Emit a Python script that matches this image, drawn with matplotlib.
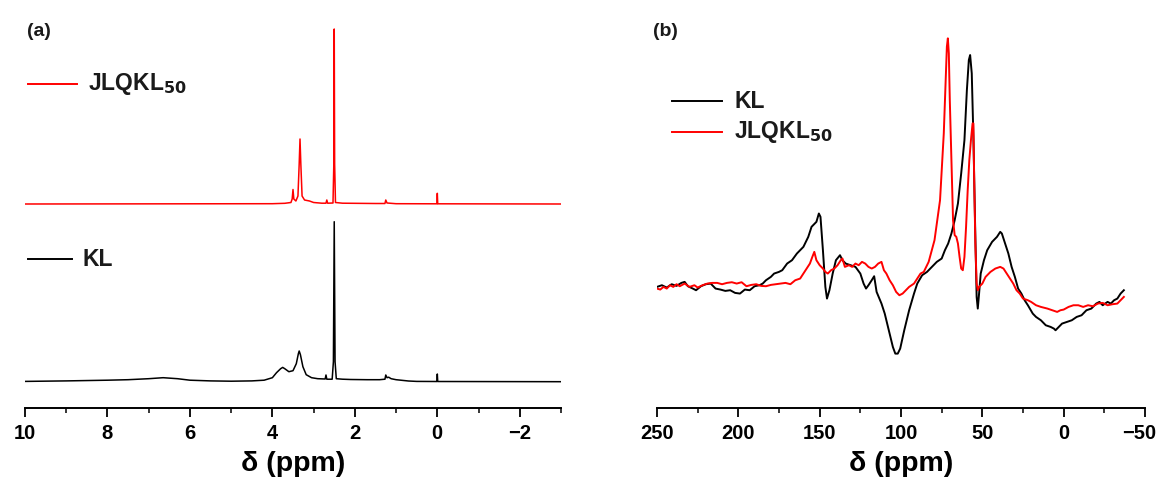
import matplotlib
matplotlib.use("Agg")
import matplotlib.pyplot as plt
import matplotlib.transforms as mtransforms
from matplotlib.ticker import MultipleLocator

plt.rcParams['font.family'] = ['Liberation Sans', 'DejaVu Sans']
plt.rcParams['font.weight'] = 'bold'

# ---------------- Panel (a): 1H NMR ----------------
a_kl_ppm = [10, 9, 8, 7.5, 7, 6.65, 6.3, 6, 5.5, 5, 4.5, 4.2, 4.0, 3.9, 3.8, 3.75, 3.7, 3.6,
            3.5, 3.42, 3.37, 3.35, 3.32, 3.26, 3.18, 3.05, 2.9, 2.72, 2.70, 2.68, 2.55, 2.52,
            2.50, 2.48, 2.45, 2.3, 2.1, 1.7, 1.4, 1.27, 1.25, 1.22, 1.18, 1.12, 1.0, 0.7, 0.5,
            0.01, 0.0, -0.01, -3]
a_kl_int = [0.3, 0.8, 1.5, 2, 3, 4, 3, 1.5, 0.8, 0.5, 0.8, 1.5, 4, 9, 13, 14.3, 13, 10,
            11, 18, 28, 30.7, 27, 15, 7, 4, 3, 2.7, 6.7, 2.5, 2.5, 20,
            160, 20, 3, 2.5, 2.2, 2, 2, 2.5, 6.7, 4, 4.5, 3, 2, 0.7, 0.3,
            0.2, 7.7, 0.2, 0]

a_jl_ppm = [10, 4.0, 3.7, 3.55, 3.52, 3.50, 3.48, 3.43, 3.38, 3.35, 3.33, 3.31, 3.28, 3.22,
            3.1, 3.0, 2.8, 2.70, 2.68, 2.66, 2.53, 2.51, 2.50, 2.49, 2.47, 2.3, 1.5, 1.27,
            1.25, 1.22, 1.0, 0.01, 0.0, -0.01, -3]
a_jl_int = [0, 0.3, 0.7, 1.5, 5, 14.5, 5, 3, 8, 40, 65, 40, 8, 4,
            3, 1.5, 0.8, 0.8, 4, 0.8, 1, 40, 175, 40, 1.5, 0.8, 0.5, 0.5,
            4, 1, 0.3, 0.2, 10.7, 0.2, 0]

a_xticks = [10, 8, 6, 4, 2, 0, -2]

# ---------------- Panel (b): 13C NMR ----------------
b_kl_ppm = [250, 247, 244, 241, 238, 235, 233, 231, 228, 226, 223, 220, 217, 214, 211, 208, 205,
            202, 199, 196, 193, 190, 187, 185, 183, 180, 178, 175, 173, 170, 167, 164, 160, 157,
            155, 152, 150.5, 149.5, 148, 146.5, 145.5, 144, 142, 140, 137.5, 136, 134, 131, 128,
            125, 123, 121.5, 120, 118, 116.5, 115, 112, 110, 107, 105, 103.5, 102, 100.5, 98, 95,
            92, 90, 87, 84, 81, 78, 75, 73, 71, 69, 67, 65, 63, 61, 59.5, 58.3, 57.5, 56.5, 55.5,
            54.5, 53.5, 52.8, 52, 51, 49, 47, 44, 41, 39, 38, 36, 34, 32, 30, 28, 26, 24, 22, 19,
            17, 14, 11, 8, 6, 5, 3, 1, -2, -5, -8, -11, -14, -17, -20, -22, -24, -27, -29, -31,
            -33, -35, -37]
b_kl_int = [0, 5, -2, 8, 3, 12, 15, 2, -5, -10, 2, 8, 10, -5, -8, -12, -10,
            -18, -20, -8, -10, 2, 5, 10, 20, 30, 40, 45, 50, 70, 80, 100, 120, 150,
            180, 195, 220, 210, 110, 0, -35, -10, 40, 80, 95, 80, 70, 65, 60,
            40, 10, -5, 5, 20, 32, -15, -50, -80, -140, -180, -200, -200, -185, -130, -70,
            -20, 10, 35, 45, 60, 75, 85, 110, 130, 160, 200, 250, 340, 440, 590, 680, 695, 640, 450,
            200, -30, -65, -20, 40, 80, 110, 135, 150, 165, 160, 130, 100, 60, 30, -5, -20, -40, -55, -80,
            -90, -100, -115, -120, -125, -130, -120, -110, -105, -100, -90, -85, -70, -65, -50, -45, -55, -45, -50, -40,
            -35, -20, -10]

b_jl_ppm = [250, 248, 246, 244, 242, 240, 238, 236, 233, 230, 227, 225, 222, 219, 216, 213, 210,
            207, 204, 201, 198, 195, 192, 189, 186, 183, 180, 177, 174, 171, 168, 165, 162, 160,
            158, 156, 154.5, 153.3, 152, 150, 148, 146.5, 145, 143, 141, 139, 137, 136, 134.5, 132,
            130, 128, 126, 124, 122, 120, 118, 116, 114, 112, 110.5, 109, 107, 105, 103, 101, 99,
            97, 95, 92, 90, 88, 86, 83, 79.4, 76, 73.7, 72.5, 71.8, 71.2, 70.6, 70, 69, 68, 67, 66,
            65, 64, 63, 62, 61, 60, 59, 58, 57, 56, 55.5, 55, 54.3, 53.5, 52.8, 52, 50, 48, 45, 42,
            39, 37, 35, 33, 31, 29, 27, 25, 22, 20, 17, 14, 10, 7, 4, 2, 0, -3, -6, -9, -12, -15,
            -18, -21, -24, -27, -30, -33, -35, -37]
b_jl_int = [-5, -8, 0, -5, 5, 0, 8, 2, 10, 0, 5, -2, 5, 10, 12, 12, 8,
            12, 14, 10, 14, 2, 6, 8, 3, 2, 6, 8, 10, 12, 8, 20, 25, 40,
            55, 70, 90, 105, 80, 65, 55, 45, 40, 50, 55, 65, 80, 85, 60, 65,
            60, 70, 65, 75, 70, 60, 55, 60, 70, 75, 50, 40, 20, 5, -15, -25, -20,
            -10, 0, 10, 25, 40, 45, 75, 140, 260, 460, 620, 720, 745, 700, 560, 380, 200, 155, 150,
            130, 90, 55, 50, 90, 180, 290, 380, 440, 490, 490, 320, 130, 10, -10, 0, 10, 30, 45, 55,
            60, 55, 40, 25, 10, -10, -20, -35, -40, -45, -55, -60, -65, -70, -75, -70, -68, -60, -55, -55, -60, -55,
            -58, -50, -48, -55, -52, -50, -40, -30]

b_xticks = [250, 200, 150, 100, 50, 0, -50]

# offsets (in axis pixel units) for stacked spectra in panel (a)
KL_OFFSET = 25.3
JL_OFFSET = 203.0

W, H = 1164, 482
fig = plt.figure(figsize=(W / 100, H / 100), dpi=100)
fig.patch.set_facecolor('white')

def style_axis(ax):
    for s in ['left', 'right', 'top']:
        ax.spines[s].set_visible(False)
    ax.spines['bottom'].set_linewidth(1.4)
    ax.set_yticks([])
    ax.tick_params(axis='x', which='major', direction='out', length=6.5, width=1.3,
                   labelsize=14.5, pad=5)
    ax.tick_params(axis='x', which='minor', direction='out', length=3.5, width=1.1)
    for lab in ax.get_xticklabels():
        lab.set_fontweight('bold')
    ax.set_xlabel('δ (ppm)', fontsize=20.5, fontweight='bold', labelpad=6)
    ax.patch.set_alpha(0)

# Panel (a)
ax1 = fig.add_axes([25 / W, 74 / H, 536 / W, 388 / H])
ax1.plot(a_kl_ppm, [v + KL_OFFSET for v in a_kl_int], color='black', lw=1.1)
ax1.plot(a_jl_ppm, [v + JL_OFFSET for v in a_jl_int], color='#ff0000', lw=1.1)
ax1.set_xlim(10, -3)
ax1.set_ylim(-1, 387)
ax1.set_xticks(a_xticks)
ax1.xaxis.set_minor_locator(MultipleLocator(1))
style_axis(ax1)

# Panel (b)
ax2 = fig.add_axes([657 / W, 74 / H, 488 / W, 388 / H])
ax2.plot(b_kl_ppm, b_kl_int, color='black', lw=1.4)
ax2.plot(b_jl_ppm, b_jl_int, color='#ff0000', lw=1.4)
ax2.set_xlim(250, -50)
ax2.set_ylim(-363, 800)
ax2.set_xticks(b_xticks)
ax2.xaxis.set_minor_locator(MultipleLocator(25))
style_axis(ax2)

# nudge the last tick label of panel (b) left so it stays inside the figure
last = ax2.get_xticklabels()[-1]
last.set_transform(last.get_transform() +
                   mtransforms.ScaledTranslation(-6 / 100, 0, fig.dpi_scale_trans))

# Panel labels
fig.text(27 / W, 1 - 32 / H, '(a)', fontsize=14, fontweight='bold', va='center', ha='left',
         color='#1a1a1a')
fig.text(653 / W, 1 - 32 / H, '(b)', fontsize=14, fontweight='bold', va='center', ha='left',
         color='#1a1a1a')

# Legend-like labels
def leg(x0, x1, y, color, text, tx):
    fig.add_artist(plt.Line2D([x0 / W, x1 / W], [1 - y / H, 1 - y / H], color=color, lw=1.4))
    fig.text(tx / W, 1 - y / H, text, fontsize=16.5, fontweight='bold', va='center', ha='left',
             color='#1a1a1a')

leg(28, 77, 84, '#ff0000', r'JLQKL$_{\mathbf{50}}$', 88)
leg(28, 72, 259, 'black', 'KL', 82)
leg(672, 722, 101, 'black', 'KL', 734)
leg(672, 722, 132, '#ff0000', r'JLQKL$_{\mathbf{50}}$', 734)

fig.savefig('out.png', dpi=100, facecolor='white')
